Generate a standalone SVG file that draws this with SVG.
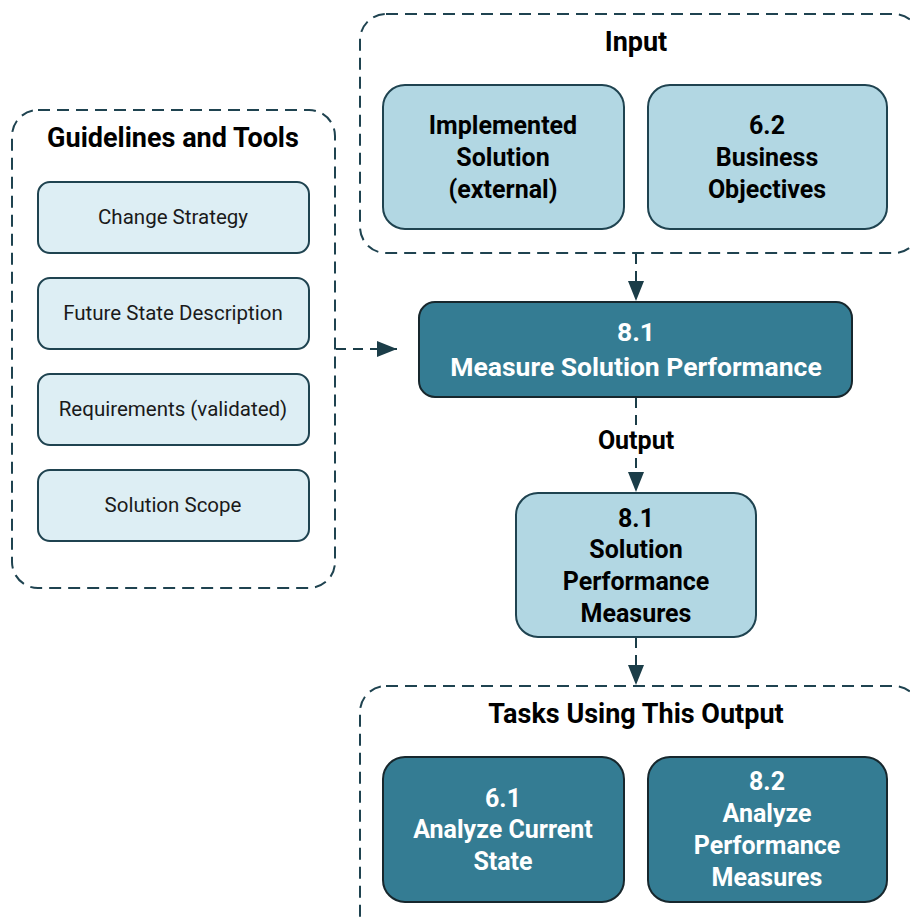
<svg xmlns="http://www.w3.org/2000/svg" width="910" height="920" viewBox="0 0 910 920">
<defs>
<marker id="ah" viewBox="0 0 20 16" refX="20" refY="8" markerWidth="20" markerHeight="16" markerUnits="userSpaceOnUse" orient="auto">
<path d="M0,0 L20,8 L0,16 z" fill="#1b3d48"/>
</marker>
<style>
.cont{fill:none;stroke:#1f4350;stroke-width:2;stroke-dasharray:12 7}
.light{fill:#ddeef4;stroke:#1f4350;stroke-width:2}
.mid{fill:#b2d7e3;stroke:#1f4350;stroke-width:2}
.dark{fill:#347c93;stroke:#17272d;stroke-width:2}
.t{font-family:Roboto,"Open Sans","Liberation Sans",sans-serif;text-anchor:middle}
.title{font-size:27px;font-weight:bold;fill:#000}
.reg{font-size:20.5px;fill:#1a1a1a}
.bk{font-size:25px;font-weight:bold;fill:#000}
.wt{font-size:25px;font-weight:bold;fill:#fff}
.wtl{font-size:26.5px;font-weight:bold;fill:#fff}
.conn{fill:none;stroke:#1b3d48;stroke-width:2;stroke-dasharray:10 7}
</style>
</defs>
<rect width="910" height="920" fill="#fff"/>

<g id="guidelines">
<rect class="cont" x="12" y="110" width="323" height="478" rx="26"/>
<text class="t title" x="173" y="147">Guidelines and Tools</text>
</g>
<g id="change-strategy">
<rect class="light" x="38" y="182" width="271" height="71" rx="12"/>
<text class="t reg" x="173" y="224">Change Strategy</text>
</g>
<g id="future-state">
<rect class="light" x="38" y="278" width="271" height="71" rx="12"/>
<text class="t reg" x="173" y="320">Future State Description</text>
</g>
<g id="requirements">
<rect class="light" x="38" y="374" width="271" height="71" rx="12"/>
<text class="t reg" x="173" y="416">Requirements (validated)</text>
</g>
<g id="solution-scope">
<rect class="light" x="38" y="470" width="271" height="71" rx="12"/>
<text class="t reg" x="173" y="512">Solution Scope</text>
</g>

<g id="input">
<rect class="cont" x="360" y="14" width="560" height="239" rx="26"/>
<text class="t title" x="636" y="51">Input</text>
</g>
<g id="implemented-solution">
<rect class="mid" x="383" y="85" width="241" height="144" rx="22"/>
<text class="t bk" x="503" y="134">Implemented</text>
<text class="t bk" x="503" y="166">Solution</text>
<text class="t bk" x="503" y="198">(external)</text>
</g>
<g id="business-objectives">
<rect class="mid" x="648" y="85" width="239" height="144" rx="22"/>
<text class="t bk" x="767" y="134">6.2</text>
<text class="t bk" x="767" y="166">Business</text>
<text class="t bk" x="767" y="198">Objectives</text>
</g>

<g id="measure-solution-performance">
<rect class="dark" x="419" y="302" width="433" height="95" rx="16"/>
<text class="t wtl" x="636" y="341">8.1</text>
<text class="t wtl" x="636" y="376">Measure Solution Performance</text>
</g>

<g id="output-label">
<text class="t bk" x="636" y="449">Output</text>
</g>

<g id="solution-performance-measures">
<rect class="mid" x="516" y="493" width="240" height="144" rx="22"/>
<text class="t bk" x="636" y="527">8.1</text>
<text class="t bk" x="636" y="558">Solution</text>
<text class="t bk" x="636" y="590">Performance</text>
<text class="t bk" x="636" y="622">Measures</text>
</g>

<g id="tasks">
<rect class="cont" x="360" y="686" width="560" height="260" rx="26"/>
<text class="t title" x="636" y="723">Tasks Using This Output</text>
</g>
<g id="analyze-current-state">
<rect class="dark" x="383" y="757" width="241" height="145" rx="22"/>
<text class="t wt" x="503" y="807">6.1</text>
<text class="t wt" x="503" y="838">Analyze Current</text>
<text class="t wt" x="503" y="870">State</text>
</g>
<g id="analyze-performance-measures">
<rect class="dark" x="648" y="757" width="239" height="145" rx="22"/>
<text class="t wt" x="767" y="790">8.2</text>
<text class="t wt" x="767" y="822">Analyze</text>
<text class="t wt" x="767" y="854">Performance</text>
<text class="t wt" x="767" y="886">Measures</text>
</g>

<g id="connectors">
<path class="conn" d="M636,254 V301" marker-end="url(#ah)"/>
<path class="conn" d="M336,349 H397" marker-end="url(#ah)"/>
<path class="conn" d="M636,398 V425"/>
<path class="conn" d="M636,458 V492" marker-end="url(#ah)"/>
<path class="conn" d="M636,638 V685" marker-end="url(#ah)"/>
</g>
</svg>
